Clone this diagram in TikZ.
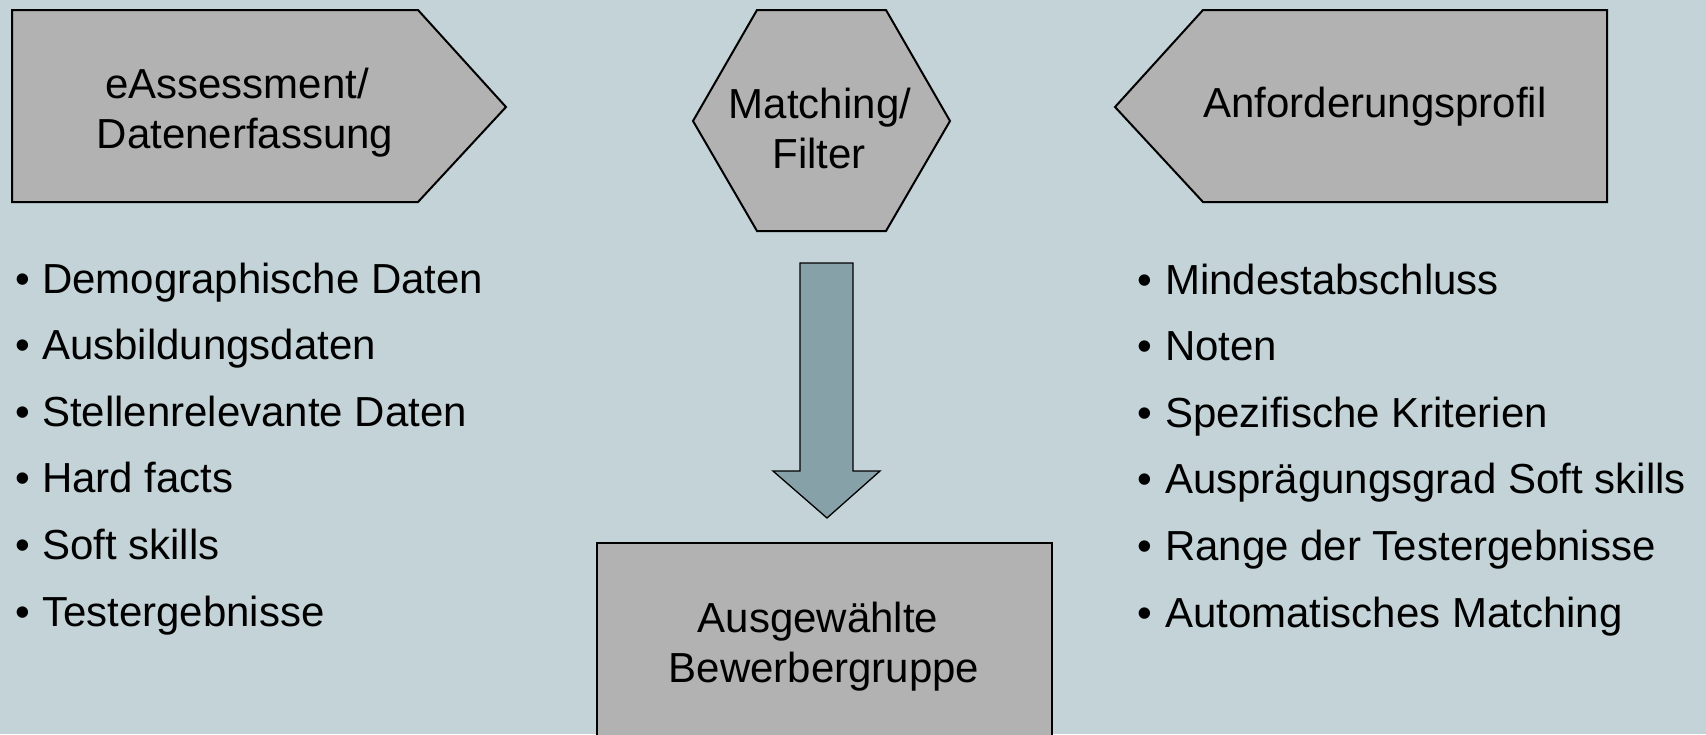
\documentclass[tikz,border=0pt]{standalone}
\usepackage{fontspec}
\setmainfont{Liberation Sans}
\usepackage{graphicx}
\definecolor{bgcol}{RGB}{195,211,215}
\definecolor{boxgray}{RGB}{178,178,178}
\definecolor{arrowcol}{RGB}{134,162,168}
\tikzset{
  shapebox/.style={draw=black, fill=boxgray, line width=2pt, line join=miter},
  blockarrow/.style={draw=black, fill=arrowcol, line width=1.3pt, line join=miter},
  lbl/.style={inner sep=0pt, anchor=base, font=\fontsize{42}{50}\selectfont},
  item/.style={inner sep=0pt, anchor=base west, font=\fontsize{42}{50}\selectfont},
}
\newcommand{\litem}[1]{\makebox[27pt][l]{•}#1}
\newcommand{\ritem}[1]{\makebox[28pt][l]{•}#1}
\begin{document}
\begin{tikzpicture}[x=1pt,y=-1pt]
\useasboundingbox[fill=bgcol] (0,0) rectangle (1706,734);

% left pentagon
\draw[shapebox] (12,10) -- (418,10) -- (506,107) -- (418,202) -- (12,202) -- cycle;
\node[lbl] (l1) at (237,98) {eAssessment/};
\node[lbl] (l2) at (245,148) {Datenerfassung};

% hexagon
\draw[shapebox] (757,10) -- (886,10) -- (950,121) -- (886,231) -- (757,231) -- (693,121) -- cycle;
\node[lbl] (m1) at (820,118) {Matching/};
\node[lbl] (m2) at (819,168) {Filter};

% right pentagon
\draw[shapebox] (1115,107) -- (1203,10) -- (1607,10) -- (1607,202) -- (1203,202) -- cycle;
\node[lbl] (r1) at (1375,117) {Anforderungsprofil};

% block arrow
\draw[blockarrow] (800,263) -- (853,263) -- (853,471) -- (880,471) -- (827,518) -- (773,471) -- (800,471) -- cycle;

% bottom box
\draw[shapebox] (597,543) rectangle (1052,745);
\node[lbl] (b1) at (818,632) {Ausgewählte};
\node[lbl] (b2) at (824,682) {Bewerbergruppe};

% left list
\node[item] (a1) at (15,293) {\litem{Demographische Daten}};
\node[item] (a2) at (15,359.6) {\litem{Ausbildungsdaten}};
\node[item] (a3) at (15,426.2) {\litem{Stellenrelevante Daten}};
\node[item] (a4) at (15,492.8) {\litem{Hard facts}};
\node[item] (a5) at (15,559.4) {\litem{Soft skills}};
\node[item] (a6) at (15,626) {\litem{Testergebnisse}};

% right list
\node[item] (c1) at (1137,294) {\ritem{Mindestabschluss}};
\node[item] (c2) at (1137,360.6) {\ritem{Noten}};
\node[item] (c3) at (1137,427.2) {\ritem{Spezifische Kriterien}};
\node[item] (c4) at (1137,493.8) {\ritem{Ausprägungsgrad Soft skills}};
\node[item] (c5) at (1137,560.4) {\ritem{Range der Testergebnisse}};
\node[item] (c6) at (1137,627) {\ritem{Automatisches Matching}};
\end{tikzpicture}
\end{document}
